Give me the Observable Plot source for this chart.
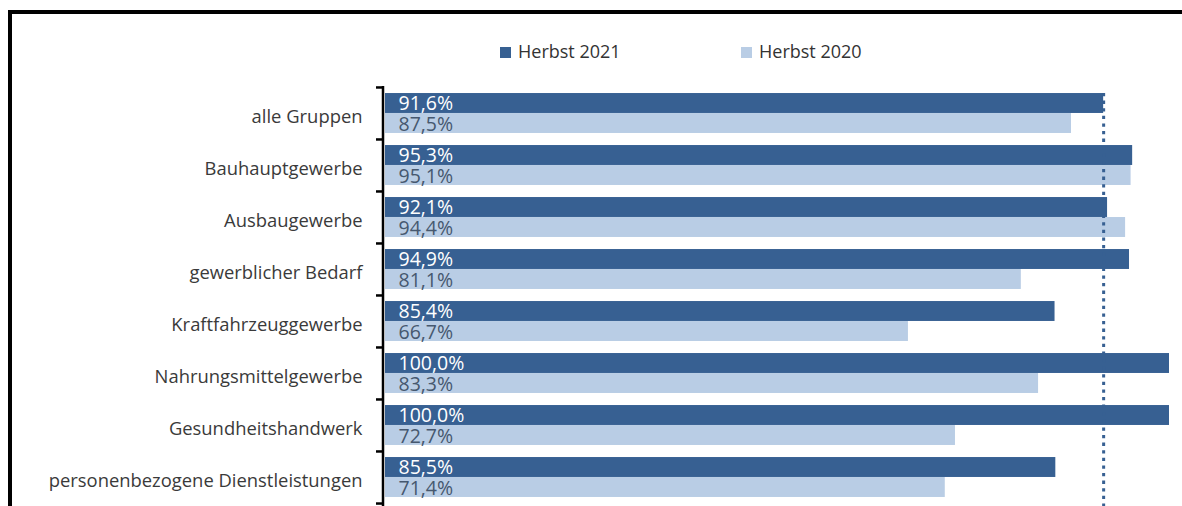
<!DOCTYPE html>
<html>
<head>
<meta charset="utf-8">
<script src="https://cdn.jsdelivr.net/npm/d3@7"></script>
<script src="https://cdn.jsdelivr.net/npm/@observablehq/plot@0.6"></script>
<style>
  html, body { margin: 0; padding: 0; background: #fff; }
  #wrap { position: relative; width: 1182px; height: 506px; overflow: hidden; font-family: "Open Sans", sans-serif; }
  #frame { position: absolute; left: 8px; top: 10px; width: 1300px; height: 600px; border-top: 4px solid #000; border-left: 4px solid #000; box-sizing: border-box; }
  #legend { position: absolute; top: 36px; left: 0; width: 1182px; height: 30px; }
  .sw { position: absolute; width: 11px; height: 11px; top: 11px; }
  .lt { position: absolute; top: 0; font-size: 18px; color: #333; line-height: 30px; white-space: nowrap; }
  #chart { position: absolute; left: 0; top: 0; }
</style>
</head>
<body>
<div id="wrap">
  <div id="frame"></div>
  <div id="chart"></div>
  <div id="legend"></div>
</div>
<script>
const categories = [
  "alle Gruppen",
  "Bauhauptgewerbe",
  "Ausbaugewerbe",
  "gewerblicher Bedarf",
  "Kraftfahrzeuggewerbe",
  "Nahrungsmittelgewerbe",
  "Gesundheitshandwerk",
  "personenbezogene Dienstleistungen"
];
const seriesNames = ["Herbst 2021", "Herbst 2020"];
const values2021 = [91.6, 95.3, 92.1, 94.9, 85.4, 100.0, 100.0, 85.5];
const values2020 = [87.5, 95.1, 94.4, 81.1, 66.7, 83.3, 72.7, 71.4];
const referenceValue = values2021[0];

const colors = { "Herbst 2021": "#376092", "Herbst 2020": "#B9CDE5" };
const labelColors = { "Herbst 2021": "#ffffff", "Herbst 2020": "#46586F" };

const fmt = v => v.toFixed(1).replace(".", ",") + "%";

const rows2021 = categories.map((c, i) => ({ cat: c, series: seriesNames[0], value: values2021[i] }));
const rows2020 = categories.map((c, i) => ({ cat: c, series: seriesNames[1], value: values2020[i] }));

const W = 1182, H = 506, mT = 86.5, mB = 3;
const band = (H - mT - mB) / categories.length;
const half = band / 2;

const chart = Plot.plot({
  width: W,
  height: H,
  marginLeft: 385,
  marginRight: 13,
  marginTop: mT,
  marginBottom: mB,
  style: { fontFamily: "'Open Sans', sans-serif", background: "transparent", overflow: "visible" },
  x: { domain: [0, 100], axis: null },
  y: { domain: categories, padding: 0, label: null },
  marks: [
    Plot.barX(rows2021, { y: "cat", x: "value", fill: colors[seriesNames[0]], insetTop: half - 20, insetBottom: half }),
    Plot.barX(rows2020, { y: "cat", x: "value", fill: colors[seriesNames[1]], insetTop: half, insetBottom: half - 20 }),
    Plot.text(rows2021, { y: "cat", x: 0, text: d => fmt(d.value), dx: 13, dy: -10, textAnchor: "start", fill: labelColors[seriesNames[0]], fontSize: 19.5 }),
    Plot.text(rows2020, { y: "cat", x: 0, text: d => fmt(d.value), dx: 13, dy: 11.5, textAnchor: "start", fill: labelColors[seriesNames[1]], fontSize: 19.5 }),
    Plot.ruleX([referenceValue], { x: d => d, stroke: "#376092", strokeWidth: 3, strokeDasharray: "3.3,4.3", insetTop: 6.5, insetBottom: -4 }),
    Plot.ruleX([0], { dx: -2.5, stroke: "#000", strokeWidth: 2.5, insetTop: -0.5, insetBottom: -4 }),
    Plot.ruleY(categories, { y: d => d, x1: -1.15, x2: -0.2, dy: -half, stroke: "#000", strokeWidth: 2.5 }),
    Plot.ruleY(categories.slice(-1), { y: d => d, x1: -1.15, x2: -0.2, dy: half, stroke: "#000", strokeWidth: 2.5 }),
    Plot.axisY({ tickSize: 0, tickPadding: 23, fontSize: 18.4, dy: 4, fill: "#3a3a3a", label: null })
  ]
});
document.getElementById("chart").appendChild(chart);

const legend = document.getElementById("legend");
const legendX = [500, 741];
seriesNames.forEach((s, i) => {
  const sw = document.createElement("div");
  sw.className = "sw";
  sw.style.left = legendX[i] + "px";
  sw.style.background = colors[s];
  legend.appendChild(sw);
  const t = document.createElement("div");
  t.className = "lt";
  t.style.left = (legendX[i] + 18) + "px";
  t.textContent = s;
  legend.appendChild(t);
});
</script>
</body>
</html>
